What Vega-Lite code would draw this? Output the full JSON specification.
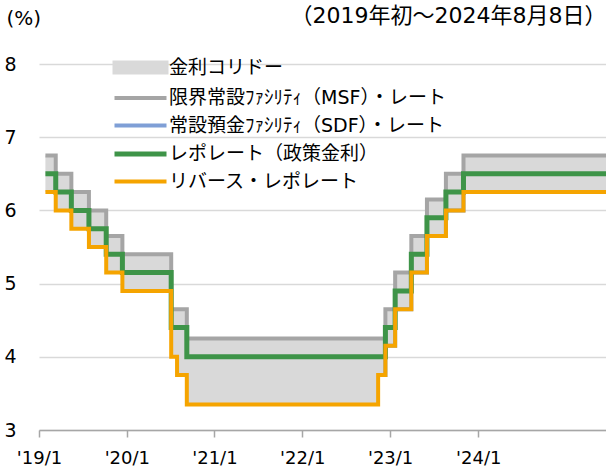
{
  "$schema": "https://vega.github.io/schema/vega-lite/v6.json",
  "width": 567,
  "height": 366,
  "autosize": {"type": "none"},
  "padding": {"left": 39, "top": 64, "right": 0, "bottom": 40},
  "config": {
    "view": {"stroke": null},
    "font": "DejaVu Sans, Noto Sans CJK JP"
  },
  "data": {
    "values": [
      {"date": "2019-01-01", "msf": 6.75, "repo": 6.50, "rr": 6.25, "sdf": null},
      {"date": "2019-02-07", "msf": 6.50, "repo": 6.25, "rr": 6.00, "sdf": null},
      {"date": "2019-04-04", "msf": 6.25, "repo": 6.00, "rr": 5.75, "sdf": null},
      {"date": "2019-06-06", "msf": 6.00, "repo": 5.75, "rr": 5.50, "sdf": null},
      {"date": "2019-08-07", "msf": 5.65, "repo": 5.40, "rr": 5.15, "sdf": null},
      {"date": "2019-10-04", "msf": 5.40, "repo": 5.15, "rr": 4.90, "sdf": null},
      {"date": "2020-03-27", "msf": 4.65, "repo": 4.40, "rr": 4.00, "sdf": null},
      {"date": "2020-04-17", "msf": 4.65, "repo": 4.40, "rr": 3.75, "sdf": null},
      {"date": "2020-05-22", "msf": 4.25, "repo": 4.00, "rr": 3.35, "sdf": null},
      {"date": "2022-04-08", "msf": 4.25, "repo": 4.00, "rr": 3.75, "sdf": 3.75},
      {"date": "2022-05-04", "msf": 4.65, "repo": 4.40, "rr": 4.15, "sdf": 4.15},
      {"date": "2022-06-08", "msf": 5.15, "repo": 4.90, "rr": 4.65, "sdf": 4.65},
      {"date": "2022-08-05", "msf": 5.65, "repo": 5.40, "rr": 5.15, "sdf": 5.15},
      {"date": "2022-09-30", "msf": 6.15, "repo": 5.90, "rr": 5.65, "sdf": 5.65},
      {"date": "2022-12-07", "msf": 6.50, "repo": 6.25, "rr": 6.00, "sdf": 6.00},
      {"date": "2023-02-08", "msf": 6.75, "repo": 6.50, "rr": 6.25, "sdf": 6.25},
      {"date": "2024-08-08", "msf": 6.75, "repo": 6.50, "rr": 6.25, "sdf": 6.25}
    ]
  },
  "encoding": {
    "x": {
      "field": "date",
      "type": "temporal",
      "scale": {"domain": [{"year": 2018, "month": 12, "date": 9, "utc": true}, {"year": 2024, "month": 7, "date": 3, "utc": true}]},
      "axis": {
        "title": "（2019年初～2024年8月8日）",
        "titleX": 567,
        "titleY": -403,
        "titleAlign": "right",
        "titleBaseline": "bottom",
        "titleFont": "DejaVu Sans, Noto Sans CJK JP",
        "titleFontSize": 22,
        "titleFontWeight": "normal",
        "titleColor": "#000000",
        "grid": false,
        "values": [
          {"year": 2018, "month": 12, "date": 9, "utc": true},
          {"year": 2019, "month": 10, "date": 20, "utc": true},
          {"year": 2020, "month": 8, "date": 29, "utc": true},
          {"year": 2021, "month": 7, "date": 10, "utc": true},
          {"year": 2022, "month": 5, "date": 21, "utc": true},
          {"year": 2023, "month": 4, "date": 2, "utc": true}
        ],
        "labelExpr": "\"'\" + (utcyear(datum.value) - 1999) + \"/1\"",
        "labelFont": "DejaVu Sans",
        "labelFontSize": 18,
        "labelColor": "#000000",
        "labelPadding": 12,
        "labelFlush": false,
        "labelOverlap": false,
        "domainColor": "#a6a6a6",
        "domainWidth": 1.5,
        "tickColor": "#a6a6a6",
        "tickWidth": 1.5,
        "tickSize": 7
      }
    },
    "color": {
      "scale": {
        "domain": ["金利コリドー", "限界常設ﾌｧｼﾘﾃｨ（MSF）・レート", "常設預金ﾌｧｼﾘﾃｨ（SDF）・レート", "レポレート（政策金利）", "リバース・レポレート"],
        "range": ["#d9d9d9", "#a5a5a5", "#7f9fd6", "#3e9448", "#f5a400"]
      },
      "legend": {
        "orient": "none",
        "legendX": 92,
        "legendY": -6,
        "title": null,
        "padding": 0,
        "symbolType": "M-2.6,0H2.6",
        "symbolSize": 400,
        "symbolStrokeWidth": 4,
        "labelFont": "DejaVu Sans, Noto Sans CJK JP",
        "labelFontSize": 19,
        "labelColor": "#000000",
        "labelLimit": 500,
        "labelOffset": 19,
        "rowPadding": 7.5,
        "encode": {
          "symbols": {
            "update": {
              "shape": {"signal": "datum.value === '金利コリドー' ? 'M-2.6,-0.5H2.6V0.5H-2.6Z' : 'M-2.6,0H2.6'"},
              "stroke": {"signal": "datum.value === '金利コリドー' ? 'transparent' : scale('color', datum.value)"},
              "fill": {"signal": "datum.value === '金利コリドー' ? scale('color', datum.value) : 'transparent'"},
              "strokeWidth": {"signal": "datum.value === 'レポレート（政策金利）' ? 5 : 4"}
            }
          }
        }
      }
    }
  },
  "layer": [
    {
      "mark": {"type": "area", "interpolate": "step-after", "clip": true},
      "encoding": {
        "y": {
          "field": "rr",
          "type": "quantitative",
          "scale": {"domain": [3, 8]},
          "axis": {
            "values": [3, 4, 5, 6, 7, 8],
            "format": "d",
            "grid": true,
            "gridColor": "#d9d9d9",
            "gridWidth": 1.5,
            "domain": false,
            "ticks": false,
            "labelFont": "DejaVu Sans",
            "labelFontSize": 19,
            "labelColor": "#000000",
            "labelPadding": 23,
            "title": "(%)",
            "titleAngle": 0,
            "titleAlign": "left",
            "titleBaseline": "bottom",
            "titleX": -33,
            "titleY": -36,
            "titleFont": "DejaVu Sans, Noto Sans CJK JP",
            "titleFontSize": 20,
            "titleFontWeight": "normal",
            "titleColor": "#000000"
          }
        },
        "y2": {"field": "msf"},
        "color": {"datum": "金利コリドー"}
      }
    },
    {
      "mark": {"type": "line", "interpolate": "step-after", "clip": true, "strokeWidth": 4},
      "encoding": {"y": {"field": "msf", "type": "quantitative"}, "color": {"datum": "限界常設ﾌｧｼﾘﾃｨ（MSF）・レート"}}
    },
    {
      "mark": {"type": "line", "interpolate": "step-after", "clip": true, "strokeWidth": 4},
      "encoding": {"y": {"field": "sdf", "type": "quantitative"}, "color": {"datum": "常設預金ﾌｧｼﾘﾃｨ（SDF）・レート"}}
    },
    {
      "mark": {"type": "line", "interpolate": "step-after", "clip": true, "strokeWidth": 5},
      "encoding": {"y": {"field": "repo", "type": "quantitative"}, "color": {"datum": "レポレート（政策金利）"}}
    },
    {
      "mark": {"type": "line", "interpolate": "step-after", "clip": true, "strokeWidth": 4},
      "encoding": {"y": {"field": "rr", "type": "quantitative"}, "color": {"datum": "リバース・レポレート"}}
    }
  ]
}
